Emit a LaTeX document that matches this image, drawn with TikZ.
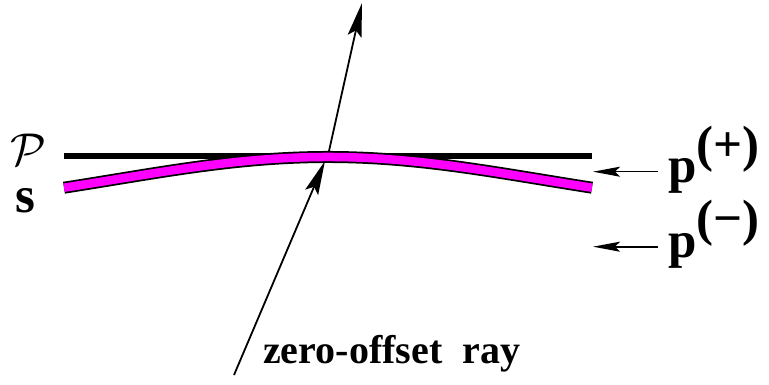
\documentclass[tikz,border=0pt]{standalone}
\usepackage{fontspec}
\setmainfont{Liberation Serif}
\usetikzlibrary{arrows.meta}
\definecolor{mag}{RGB}{255,0,255}
\tikzset{
  ray/.style={line width=1.8pt, -{Stealth[length=34pt, width=14pt, inset=6pt]}},
  small/.style={line width=1.6pt, -{Stealth[length=27pt, width=10pt, inset=5pt]}},
  big/.style={inner sep=0pt, anchor=base west, font=\fontsize{51}{51}\selectfont\bfseries},
  lab/.style={inner sep=0pt, anchor=base west, font=\fontsize{40}{40}\selectfont\bfseries},
}
\begin{document}
\begin{tikzpicture}[x=1pt, y=-1pt]
\useasboundingbox (0,0) rectangle (769,385);
% plane P
\coordinate (pl) at (64,155.7);
\coordinate (pr) at (592,155.7);
\draw[line width=6pt] (pl) -- (pr);
% upper ray
\coordinate (u0) at (327,160);
\coordinate (u1) at (362,3);
\draw[ray] (u0) -- (u1);
% surface s
\draw[line width=12pt, black] plot[domain=-2.64:2.64, samples=80, smooth] ({328+100*\x},{215-58*exp(-\x*\x/9.245)});
\draw[line width=8.5pt, mag] plot[domain=-2.64:2.64, samples=80, smooth] ({328+100*\x},{215-58*exp(-\x*\x/9.245)});
% lower ray
\coordinate (r0) at (234,375);
\coordinate (r1) at (325,161);
\draw[ray] (r0) -- (r1);
% labels
\node[inner sep=0pt, anchor=base west] (P) at (10,166) {\scalebox{4.6}{$\mathcal{P}$}};
\node[big] (s) at (15,212) {s};
\node[big] (pp) at (668,183) {p\raisebox{21pt}{(+)}};
\node[big] (pm) at (668,257) {p\raisebox{21pt}{(\textminus)}};
\node[lab] (zo) at (263,363) {zero-offset\hspace{0.5em}ray};
% small arrows
\coordinate (a1) at (593,171.7);
\coordinate (a2) at (593,246.7);
\draw[small] (pp.west |- a1) ++(-10,0) -- (a1);
\draw[small] (pm.west |- a2) ++(-10,0) -- (a2);
\end{tikzpicture}
\end{document}
